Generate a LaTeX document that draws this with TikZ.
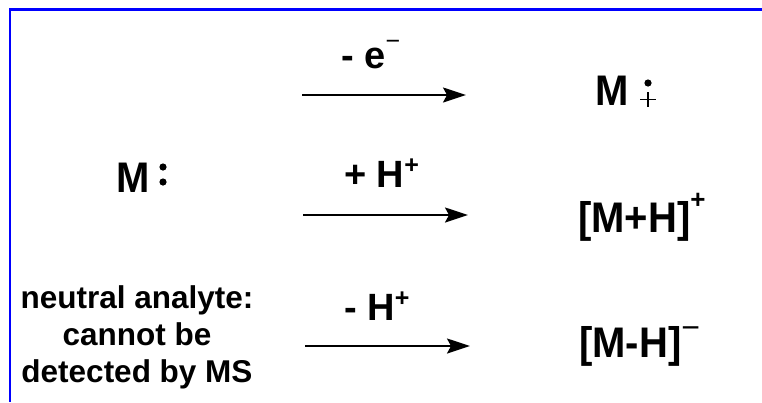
\documentclass[tikz,border=0pt]{standalone}
\usepackage{fontspec}
\setmainfont{Liberation Sans}
\usetikzlibrary{arrows.meta}

% raised charge signs
\newcommand{\chgplus}[2]{\raisebox{#2pt}{\fontsize{#1}{#1}\selectfont\bfseries +}}
\newcommand{\chgminus}[2]{\raisebox{#2pt}{\fontsize{#1}{#1}\selectfont\mdseries −}}

\begin{document}
\begin{tikzpicture}[x=1pt,y=-1pt,
  frame/.style={draw=blue, line width=2.4pt},
  rxn/.style={draw=black, line width=1.8pt, -{Stealth[length=23pt,width=15pt,inset=4pt]}},
  species/.style={anchor=base west, inner sep=0pt, font=\fontsize{40}{40}\selectfont\bfseries},
  reagent/.style={anchor=base west, inner sep=0pt, font=\fontsize{38}{38}\selectfont\bfseries},
  note/.style={align=center, inner sep=0pt, font=\fontsize{31.5}{37}\selectfont\bfseries},
  electron/.style={fill=black, draw=none}]
\useasboundingbox (0,0) rectangle (762,402);

% page frame (top and left edges)
\draw[frame] (9,9.6) -- (762,9.6);
\draw[frame] (10,9) -- (10,402);

% reactant
\node[species] (m) at (116,192) {\scalebox{1}[1.07]{M}};
\fill[electron] (163,167) circle (3.6pt) coordinate (lp1);
\fill[electron] (163,182) circle (3.6pt) coordinate (lp2);
\node[note] (neutral) at (137,337) {neutral analyte:\\cannot be\\detected by MS};

% reaction arrows
\coordinate (a1s) at (302,95);  \coordinate (a1e) at (466,95);
\coordinate (a2s) at (303,215); \coordinate (a2e) at (468,215);
\coordinate (a3s) at (305,346); \coordinate (a3e) at (470,346);
\draw[rxn] (a1s) -- (a1e);
\draw[rxn] (a2s) -- (a2e);
\draw[rxn] (a3s) -- (a3e);

% reagents above the arrows
\node[reagent] (r1) at (341,68) {- e\chgminus{25}{19}};
\node[reagent] (r2) at (344,187) {+ H\chgplus{25}{14}};
\node[reagent] (r3) at (344,320) {- H\chgplus{25}{14}};

% products
\node[species] (p1) at (595,105) {\scalebox{1}[1.07]{M}};
\fill[electron] (648,83) circle (3.6pt) coordinate (rad);
\draw[line width=1.6pt] (640,99.5) -- (656,99.5) (648,92) -- (648,107);
\node[species] (p2) at (578,232) {\scalebox{1}[1.07]{[M+H]}\chgplus{26}{24}};
\node[species] (p3) at (579,357) {\scalebox{1}[1.07]{[M-H]}\chgminus{32}{19}};
\end{tikzpicture}
\end{document}
